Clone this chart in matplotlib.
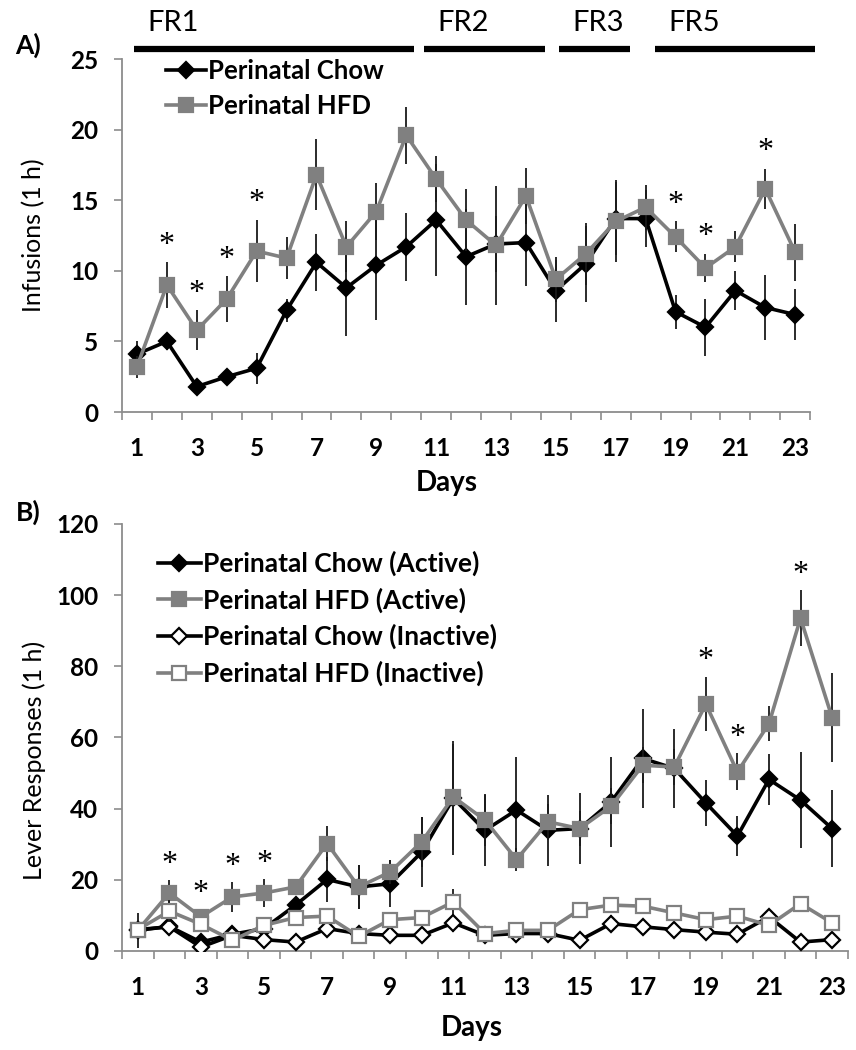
import numpy as np
import matplotlib
matplotlib.use('Agg')
import matplotlib.pyplot as plt
import matplotlib.transforms as mtransforms

plt.rcParams['font.family'] = ['Lato', 'DejaVu Sans']

days = list(range(1, 24))

# A) infusions (1 h), mean and SEM
chow_inf = [4.1, 5.0, 1.8, 2.5, 3.1, 7.2, 10.6, 8.8, 10.4, 11.7, 13.6, 11.0,
            11.9, 12.0, 8.6, 10.5, 13.7, 13.7, 7.1, 6.0, 8.6, 7.4, 6.9]
chow_inf_err = [0.9, 0.6, 0.3, 0.3, 1.1, 0.8, 2.0, 3.4, 3.9, 2.4, 4.0, 3.4,
                2.0, 3.1, 2.2, 2.7, 2.6, 2.0, 1.2, 2.0, 1.4, 2.3, 1.8]
hfd_inf = [3.2, 9.0, 5.8, 8.0, 11.4, 10.9, 16.8, 11.7, 14.2, 19.6, 16.5, 13.6,
           11.8, 15.3, 9.4, 11.2, 13.5, 14.5, 12.4, 10.2, 11.7, 15.8, 11.3]
hfd_inf_err = [0.8, 1.6, 1.4, 1.6, 2.2, 1.5, 2.5, 1.8, 2.0, 2.0, 1.6, 2.2,
               4.2, 2.0, 1.6, 2.2, 2.9, 1.6, 1.1, 1.0, 1.1, 1.4, 2.0]
sig_a = [2, 3, 4, 5, 19, 20, 22]

# B) lever responses (1 h)
chow_act = [5.8, 6.9, 2.5, 4.7, 6.3, 12.9, 20.1, 18.0, 18.9, 27.8, 42.9, 33.9,
            39.6, 33.9, 34.4, 41.9, 54.1, 51.3, 41.6, 32.3, 48.2, 42.4, 34.4]
chow_act_err = [5.0, 1.5, 1.5, 1.5, 1.5, 2.0, 6.3, 6.1, 6.6, 9.8, 16.0, 10.0,
                15.0, 10.0, 10.0, 12.7, 14.0, 11.0, 6.5, 5.6, 7.2, 13.4, 10.9]
hfd_act = [5.8, 16.3, 9.6, 15.2, 16.3, 18.0, 30.2, 18.0, 22.2, 30.7, 43.3, 36.8,
           25.7, 36.3, 34.4, 40.7, 52.2, 51.7, 69.4, 50.3, 63.9, 93.5, 65.6]
hfd_act_err = [1.5, 3.6, 2.0, 4.2, 3.8, 2.0, 4.9, 6.1, 3.3, 7.0, 15.0, 7.3,
               3.2, 5.0, 5.0, 5.0, 5.0, 5.0, 7.7, 5.2, 4.9, 7.8, 12.4]
chow_inact = [6.0, 6.8, 1.1, 4.4, 3.2, 2.5, 6.3, 4.9, 4.4, 4.4, 7.9, 4.4,
              4.9, 4.9, 3.0, 7.7, 6.8, 6.0, 5.3, 4.7, 9.6, 2.5, 3.2]
chow_inact_err = [2.5, 2.0, 1.0, 1.5, 1.5, 1.5, 2.0, 1.5, 1.5, 1.5, 2.5, 1.5,
                  1.5, 1.5, 1.5, 2.5, 2.0, 2.0, 1.5, 2.0, 2.0, 1.5, 1.5]
hfd_inact = [6.0, 11.2, 7.5, 3.0, 7.2, 9.4, 9.8, 4.1, 8.8, 9.4, 13.8, 4.9,
             5.8, 5.8, 11.6, 12.9, 12.6, 10.7, 8.8, 9.8, 7.2, 13.3, 7.9]
hfd_inact_err = [1.5, 3.0, 1.5, 1.0, 1.5, 1.5, 1.5, 1.0, 1.5, 1.5, 3.5, 1.0,
                 1.0, 1.0, 1.5, 1.5, 1.5, 1.5, 1.5, 1.5, 1.5, 2.0, 1.5]
sig_b = [2, 3, 4, 5, 19, 20, 22]

# schedule bars over panel A (start day, end day)
phases = ['FR1', 'FR2', 'FR3', 'FR5']
phase_start = [0.9, 10.6, 15.1, 18.3]
phase_end = [10.27, 14.63, 17.47, 23.65]

GRAY = '#808080'
EC = '#1a1a1a'
SPINE = '#8c8c8c'


def series(ax, y, err, color, marker, ms, face, z):
    eb = ax.errorbar(days, y, yerr=err, color=color, marker=marker, ms=ms,
                     mfc=face, mec=color, mew=1.6, lw=2.6, ecolor=EC,
                     elinewidth=1.3, capsize=0, zorder=z)
    return eb[0]


def style_axis(ax, ymax, ystep):
    ax.set_xlim(0.5, 23.5)
    ax.set_ylim(0, ymax)
    ax.set_yticks(np.arange(0, ymax + 1, ystep))
    ax.set_xticks(np.arange(0.5, 24, 1))
    ax.set_xticklabels([])
    ax.set_xticks(days[::2], minor=True)
    ax.set_xticklabels([str(d) for d in days[::2]], minor=True)
    for s in ['top', 'right']:
        ax.spines[s].set_visible(False)
    for s in ['left', 'bottom']:
        ax.spines[s].set_color(SPINE)
        ax.spines[s].set_linewidth(1.3)
    ax.tick_params(axis='both', which='major', direction='out', length=6,
                   width=1.2, color=SPINE, labelsize=17.5)
    ax.tick_params(axis='x', which='minor', length=0, pad=18, labelsize=17.5)
    ax.tick_params(axis='y', which='major', pad=11)
    for lab in ax.get_yticklabels() + ax.get_xticklabels(minor=True):
        lab.set_fontweight('bold')


def stars(ax, y, err, sig, off):
    for d in sig:
        ax.annotate('*', (d, y[d - 1] + err[d - 1]), xytext=(0, off),
                    textcoords='offset points', ha='center', va='bottom',
                    fontsize=23, family='Liberation Serif')


fig = plt.figure(figsize=(8.56, 10.5), dpi=100)
axA = fig.add_axes([0.1425, 0.6076, 0.804, 0.3362])
axB = fig.add_axes([0.1425, 0.0943, 0.848, 0.4067])

# panel A
hA1 = series(axA, chow_inf, chow_inf_err, 'black', 'D', 8, 'black', 3)
hA2 = series(axA, hfd_inf, hfd_inf_err, GRAY, 's', 10, GRAY, 4)
style_axis(axA, 25, 5)
stars(axA, hfd_inf, hfd_inf_err, sig_a, 2)
axA.set_ylabel('Infusions (1 h)', fontsize=18)
axA.yaxis.set_label_coords(-0.112, 0.5)
axA.set_xlabel('Days', fontsize=20, fontweight='bold')
axA.xaxis.set_label_coords(0.472, -0.163)
axA.legend([hA1, hA2], ['Perinatal Chow', 'Perinatal HFD'], loc='upper left',
           bbox_to_anchor=(0.194, 0.9435), bbox_transform=fig.transFigure,
           frameon=False, prop={'weight': 'bold', 'size': 18.5},
           handlelength=1.55, handletextpad=0.1, labelspacing=0.42,
           borderpad=0, borderaxespad=0)

trans = mtransforms.blended_transform_factory(axA.transData, axA.transAxes)
for name, x0, x1 in zip(phases, phase_start, phase_end):
    axA.plot([x0, x1], [1.028, 1.028], color='black', lw=4.5,
             transform=trans, clip_on=False, solid_capstyle='butt')
    axA.text(x0 + 0.45, 1.102, name, transform=trans, ha='left', va='center',
             fontsize=21)

# panel B
hB1 = series(axB, chow_act, chow_act_err, 'black', 'D', 8, 'black', 3)
hB2 = series(axB, hfd_act, hfd_act_err, GRAY, 's', 10, GRAY, 4)
hB3 = series(axB, chow_inact, chow_inact_err, 'black', 'D', 8, 'white', 5)
hB4 = series(axB, hfd_inact, hfd_inact_err, GRAY, 's', 10, 'white', 6)
style_axis(axB, 120, 20)
stars(axB, hfd_act, hfd_act_err, sig_b, 1)
axB.set_ylabel('Lever Responses (1 h)', fontsize=18)
axB.yaxis.set_label_coords(-0.105, 0.447)
axB.set_xlabel('Days', fontsize=20, fontweight='bold')
axB.xaxis.set_label_coords(0.482, -0.15)
axB.legend([hB1, hB2, hB3, hB4],
           ['Perinatal Chow (Active)', 'Perinatal HFD (Active)',
            'Perinatal Chow (Inactive)', 'Perinatal HFD (Inactive)'],
           loc='upper left', bbox_to_anchor=(0.185, 0.4755),
           bbox_transform=fig.transFigure, frameon=False,
           prop={'weight': 'bold', 'size': 19}, handlelength=1.6,
           handletextpad=0.1, labelspacing=0.43, borderpad=0, borderaxespad=0)

fig.text(0.033, 1 - 45 / 1050, 'A)', fontsize=19, fontweight='bold',
         ha='center', va='center')
fig.text(0.033, 1 - 512 / 1050, 'B)', fontsize=19, fontweight='bold',
         ha='center', va='center')

fig.savefig('out.png', dpi=100)
